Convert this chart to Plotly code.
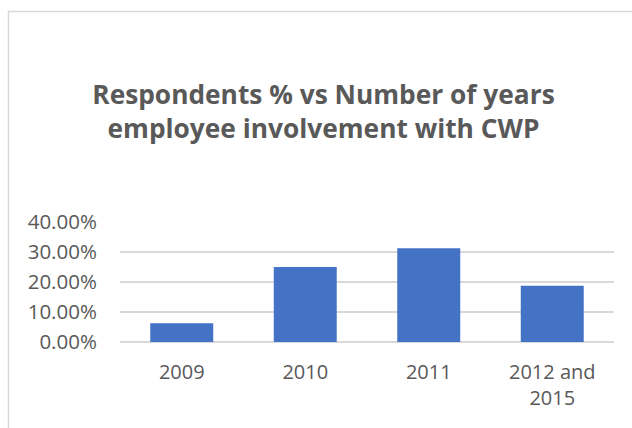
import plotly.graph_objects as go

categories = ["2009", "2010", "2011", "2012 and<br>2015"]
values = [0.0625, 0.25, 0.3125, 0.1875]
y_ticks = [0, 0.1, 0.2, 0.3, 0.4]
title_text = "Respondents % vs Number of years<br>employee involvement with CWP"

W, H = 632, 428
ML, MR, MT, MB = 120, 18, 222, 86
pw = W - ML - MR
ph = H - MT - MB

fig = go.Figure()
fig.add_trace(go.Bar(
    x=categories, y=values,
    marker=dict(color="#4472C4", line=dict(width=0)),
    hoverinfo="skip",
))

def px_x(p):
    return (p - ML) / pw

def px_y(p):
    return (H - MB - p) / ph

fig.add_shape(type="rect", xref="paper", yref="paper",
              x0=px_x(8.5), x1=px_x(660), y0=px_y(460), y1=px_y(11.5),
              line=dict(color="#d9d9d9", width=1.5), fillcolor="rgba(0,0,0,0)", layer="below")

fig.update_layout(
    width=W, height=H,
    margin=dict(l=ML, r=MR, t=MT, b=MB),
    paper_bgcolor="white", plot_bgcolor="white",
    bargap=0.49,
    showlegend=False,
    font=dict(family="Open Sans", color="#595959"),
    title=dict(text=title_text, x=323.5 / W, xanchor="center", xref="container",
               y=1 - 104 / H, yanchor="middle", yref="container",
               font=dict(family="Open Sans", size=26.3, color="#595959", weight="bold")),
    xaxis=dict(showgrid=False, showline=False, zeroline=False,
               ticks="outside", ticklen=12, tickcolor="rgba(0,0,0,0)",
               tickfont=dict(size=20, color="#595959")),
    yaxis=dict(range=[0, 0.4], tickvals=y_ticks, tickformat=".2%",
               showgrid=True, gridcolor="#d9d9d9", gridwidth=1.5,
               zeroline=True, zerolinecolor="#d9d9d9", zerolinewidth=1.5,
               showline=False, ticks="outside", ticklen=18, tickcolor="rgba(0,0,0,0)",
               tickfont=dict(size=20.5, color="#595959")),
)

fig.write_html("out.html")
